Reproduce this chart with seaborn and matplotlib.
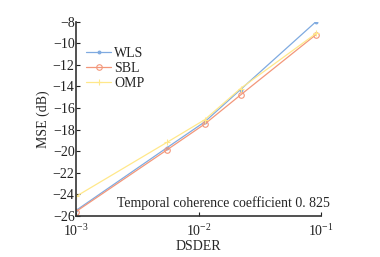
import seaborn as sns
import matplotlib.pyplot as plt
import matplotlib.ticker as mticker
import pandas as pd

# Data
dsder = [1e-3, 5.5e-3, 1.12e-2, 2.2e-2, 9.1e-2]
wls = [-25.5, -19.7, -17.3, -14.3, -8.0]
sbl = [-25.6, -19.9, -17.5, -14.8, -9.2]
omp = [-24.2, -19.2, -17.1, -14.2, -9.1]

methods = ["WLS", "SBL", "OMP"]
colors = ["#7faae0", "#f3977a", "#ffe88a"]
markers = [".", "o", "+"]

df = pd.DataFrame({
    "DSDER": dsder * 3,
    "MSE": wls + sbl + omp,
    "method": ["WLS"] * 5 + ["SBL"] * 5 + ["OMP"] * 5,
})

sns.set_style("ticks")
plt.rcParams["font.family"] = ["Liberation Serif", "DejaVu Serif"]
plt.rcParams["font.size"] = 10
plt.rcParams["xtick.direction"] = "in"
plt.rcParams["ytick.direction"] = "in"

fig = plt.figure(figsize=(3.8, 2.57), dpi=100)
ax = fig.add_axes([0.2, 0.16, 0.645, 0.756])

for m, c, mk in zip(methods, colors, markers):
    sub = df[df["method"] == m]
    sns.lineplot(data=sub, x="DSDER", y="MSE", ax=ax, color=c, marker=mk,
                 markersize=4,
                 markerfacecolor="none" if mk == "o" else c,
                 markeredgecolor=c, markeredgewidth=0.8,
                 linewidth=0.9, label=m)

ax.set_xscale("log")
ax.set_xlim(1e-3, 1e-1)
ax.set_ylim(-26, -8)
ax.set_yticks(range(-26, -7, 2))
ax.xaxis.set_minor_locator(mticker.NullLocator())
ax.tick_params(length=3, width=0.8, labelsize=10, colors="#222222")
ax.tick_params(axis="y", pad=1)
ax.tick_params(axis="x", pad=5)
for s in ["left", "bottom"]:
    ax.spines[s].set_color("#333333")
    ax.spines[s].set_linewidth(1.2)
sns.despine(ax=ax)

ax.set_xlabel("DSDER", fontsize=10, labelpad=1)
ax.set_ylabel("MSE (dB)", fontsize=10, labelpad=2)
ax.text(0.167, 0.067, "Temporal coherence coefficient 0. 825",
        transform=ax.transAxes, fontsize=10, va="center", ha="left")

ax.legend(loc="upper left", bbox_to_anchor=(0.02, 0.9), frameon=False,
          fontsize=10, handlelength=1.8, handletextpad=0.2, labelspacing=0.15,
          borderaxespad=0)

fig.savefig("out.png", dpi=100)
